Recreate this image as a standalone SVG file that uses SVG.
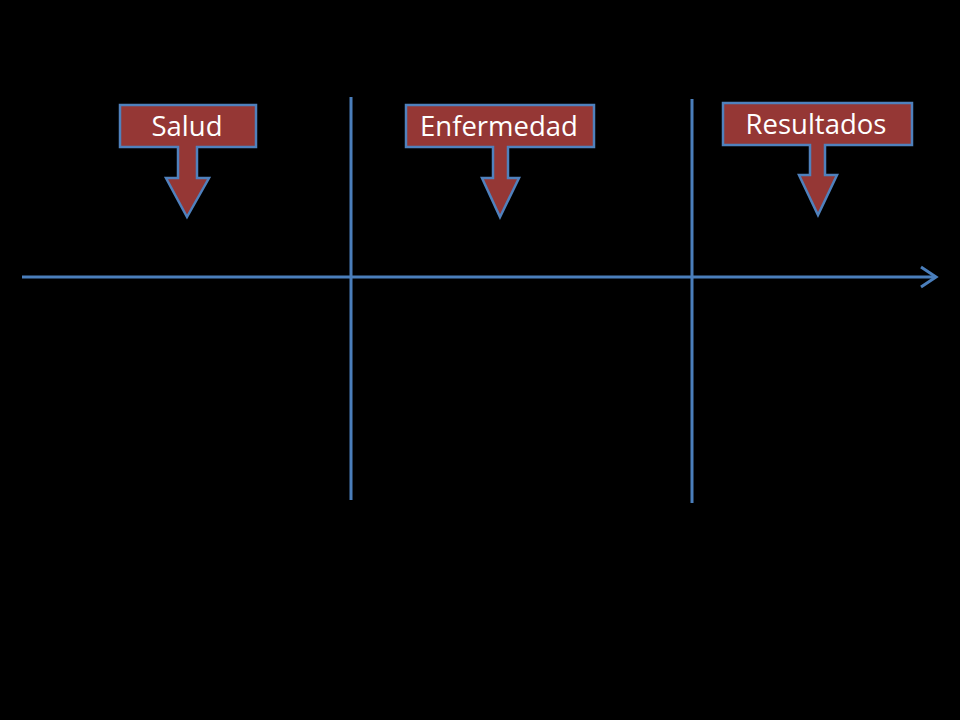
<svg xmlns="http://www.w3.org/2000/svg" width="960" height="720" viewBox="0 0 960 720">
<style>
.co{fill:#953735;stroke:#4f81bd;stroke-width:2.5;stroke-linejoin:miter}
.lbl{font-family:"Open Sans","Liberation Sans",sans-serif;font-size:27.5px;fill:#ffffff;text-anchor:middle}
.ln{stroke:#4a7ebb;stroke-width:3;fill:none}
</style>
<rect width="960" height="720" fill="#000000"/>
<g id="connectors">
<line class="ln" x1="22" y1="277" x2="936" y2="277"/>
<polyline class="ln" points="921,267 936,277 921,287"/>
<line class="ln" x1="351" y1="97" x2="351" y2="500"/>
<line class="ln" x1="692" y1="99" x2="692" y2="503"/>
</g>
<g id="salud">
<path class="co" d="M120,105 H256 V147 H197 V178 H209 L187,217 L166,178 H178 V147 H120 Z"/>
<text class="lbl" x="187" y="136">Salud</text>
</g>
<g id="enfermedad">
<path class="co" d="M406,105 H594 V147 H508 V178 H519 L500,217 L482,178 H493 V147 H406 Z"/>
<text class="lbl" x="499" y="136">Enfermedad</text>
</g>
<g id="resultados">
<path class="co" d="M723,103 H912 V145 H825 V175 H837 L818,215 L799,175 H810 V145 H723 Z"/>
<text class="lbl" x="816" y="134">Resultados</text>
</g>
</svg>
